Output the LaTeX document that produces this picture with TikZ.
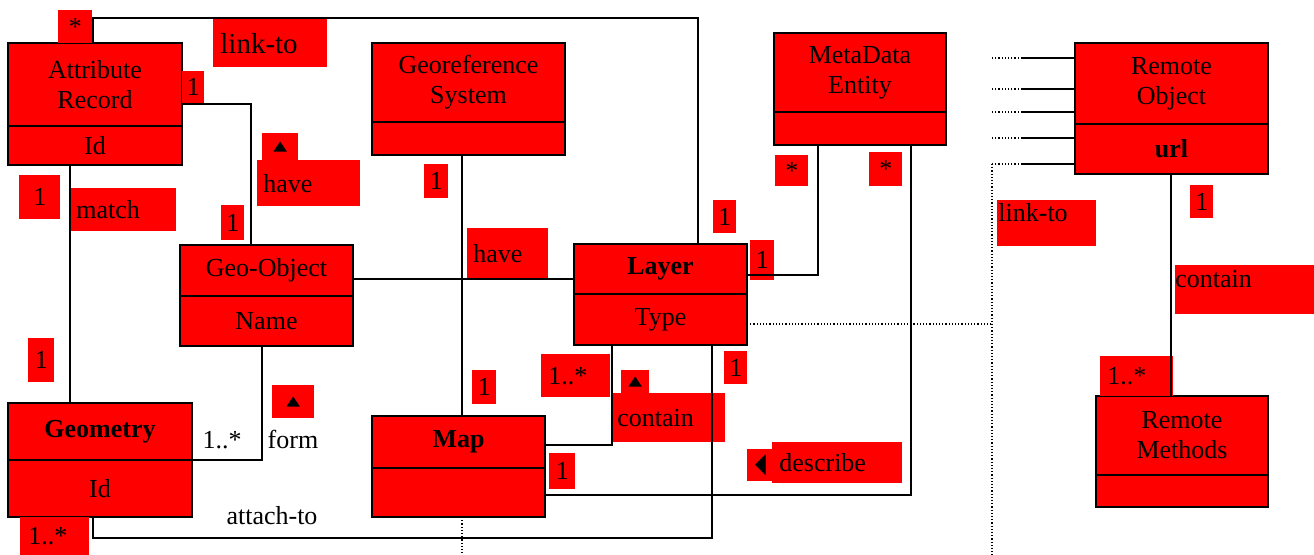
\documentclass[tikz,border=0pt]{standalone}
\usepackage{fontspec}
\usepackage{graphicx}
\setmainfont{Liberation Serif}
\newfontfamily\symfont{DejaVu Sans}
\usetikzlibrary{positioning}

\newcommand{\uptri}{{\symfont\fontsize{9}{9}\selectfont\scalebox{1}[0.75]{▲}}}
\newcommand{\lefttri}{{\symfont\fontsize{14}{14}\selectfont\scalebox{0.5}[1]{◀}}}

\begin{document}
\begin{tikzpicture}[x=0.5pt, y=-0.5pt,
	every node/.style={font=\fontsize{13}{15}\selectfont},
	cls/.style={draw=black, fill=red, line width=1pt, inner sep=0pt, outer sep=0pt, align=center, anchor=north west},
	part/.style={draw=black, fill=red, line width=1pt, inner sep=0pt, outer sep=0pt, align=center},
	tag/.style={fill=red, inner sep=0pt, anchor=north west},
	ltag/.style={fill=red, inner ysep=0pt, anchor=north west, align=left},
	conn/.style={line width=0.8pt},
	dots/.style={line width=0.6pt, dash pattern=on 0.6pt off 1pt}]
	\useasboundingbox (0,0) rectangle (1314,555);

	% classes
	\node[cls, minimum width=87pt, minimum height=41.5pt] (attr) at (8,43) {Attribute\\Record};
	\node[part, minimum width=87pt, minimum height=19.5pt, below=0pt of attr] (attrId) {Id};
	\node[cls, minimum width=96.5pt, minimum height=39.5pt] (georef) at (372,43) {Georeference\\System};
	\node[part, minimum width=96.5pt, minimum height=16.5pt, below=0pt of georef] (georefBot) {};
	\node[cls, minimum width=86pt, minimum height=39.5pt] (meta) at (774,33) {MetaData\\Entity};
	\node[part, minimum width=86pt, minimum height=16.5pt, below=0pt of meta] (metaBot) {};
	\node[cls, minimum width=96.5pt, minimum height=40.5pt] (remote) at (1075,43) {Remote\\Object};
	\node[part, minimum width=96.5pt, minimum height=25pt, below=0pt of remote] (remoteUrl) {\textbf{url}};
	\node[cls, minimum width=86.5pt, minimum height=25.5pt] (geoobj) at (180,245) {Geo-Object};
	\node[part, minimum width=86.5pt, minimum height=25pt, below=0pt of geoobj] (geoobjName) {Name};
	\node[cls, minimum width=86.5pt, minimum height=25pt] (layer) at (574,244) {\textbf{Layer}};
	\node[part, minimum width=86.5pt, minimum height=25.5pt, below=0pt of layer] (layerType) {Type};
	\node[cls, minimum width=92pt, minimum height=28.5pt] (geom) at (8,403) {\textbf{Geometry}};
	\node[part, minimum width=92pt, minimum height=28.5pt, below=0pt of geom] (geomId) {Id};
	\node[cls, minimum width=86.5pt, minimum height=26pt] (map) at (372,416) {\textbf{Map}};
	\node[part, minimum width=86.5pt, minimum height=24.5pt, below=0pt of map] (mapBot) {};
	\node[cls, minimum width=86pt, minimum height=39.5pt] (methods) at (1096,396) {Remote\\Methods};
	\node[part, minimum width=86pt, minimum height=16pt, below=0pt of methods] (methodsBot) {};

	% labels
	\node[tag, minimum width=17pt, minimum height=16.5pt] (star1) at (58,10) {*};
	\node[ltag, inner xsep=3.5pt, text width=50pt, minimum height=24pt, font=\fontsize{14.5}{16}\selectfont] (linkto1) at (213,19) {link-to};
	\node[tag, minimum width=11pt, minimum height=16pt] (one1) at (182,71) {1};
	\node[tag, minimum width=18pt, minimum height=13.5pt] (haveTri) at (262,133) {\uptri};
	\node[ltag, inner xsep=3pt, text width=45.5pt, minimum height=23pt] (have1) at (257,160) {have};
	\node[tag, minimum width=20.5pt, minimum height=22pt] (one2) at (19,175) {1};
	\node[ltag, inner xsep=2.5pt, text width=47.5pt, minimum height=21.5pt] (match) at (71,188) {match};
	\node[tag, minimum width=11.5pt, minimum height=17.5pt] (one3) at (221,205) {1};
	\node[tag, minimum width=12pt, minimum height=17pt] (one4) at (424,164) {1};
	\node[ltag, inner xsep=3pt, text width=34.5pt, minimum height=25pt] (have2) at (467,228) {have};
	\node[tag, minimum width=13pt, minimum height=22pt] (one5) at (28,338) {1};
	\node[tag, minimum width=21pt, minimum height=16.5pt] (formTri) at (272,385) {\uptri};
	\node (form) at (293,439) {form};
	\node (manyForm) at (222,440) {1..*};
	\node[tag, minimum width=12pt, minimum height=17pt] (one6) at (472,370) {1};
	\node[ltag, inner xsep=3.5pt, text width=27.5pt, minimum height=21.5pt] (many1) at (541,354) {1..*};
	\node[tag, minimum width=14pt, minimum height=11.5pt] (containTri) at (621,370) {\uptri};
	\node[ltag, inner xsep=2.5pt, text width=51.5pt, minimum height=24.5pt] (contain1) at (612,393) {contain};
	\node[tag, minimum width=13pt, minimum height=18pt] (one7) at (549,453) {1};
	\node[tag, minimum width=11.5pt, minimum height=16.5pt] (one8) at (713,200) {1};
	\node[tag, minimum width=12pt, minimum height=20pt] (one9) at (750,240) {1};
	\node[tag, minimum width=11.5pt, minimum height=16.5pt] (one10) at (724,351) {1};
	\node[tag, minimum width=16.5pt, minimum height=15.5pt] (star2) at (775,155) {*};
	\node[tag, minimum width=16.5pt, minimum height=17pt] (star3) at (869,152) {*};
	\node[tag, minimum width=13pt, minimum height=16pt] (describeTri) at (747,449) {\lefttri};
	\node[ltag, inner xsep=3.5pt, text width=58pt, minimum height=20.5pt] (describe) at (772,442) {describe};
	\node[ltag, inner xsep=0.5pt, text width=48.5pt, text height=10.5pt, text depth=12.5pt] (linkto2) at (997,200) {link-to};
	\node[tag, minimum width=11.5pt, minimum height=16.5pt] (one11) at (1190,185) {1};
	\node[ltag, inner xsep=0pt, text width=69.5pt, text height=11pt, text depth=13.5pt] (contain2) at (1175,265) {contain};
	\node[ltag, inner xsep=3.5pt, text width=29.5pt, minimum height=20pt] (many2) at (1100,356) {1..*};
	\node (attachto) at (272,516) {attach-to};
	\node[ltag, inner xsep=4pt, text width=26.5pt, minimum height=19pt] (many3) at (20,517) {1..*};

	% bends
	\coordinate (linkA) at (93,18);
	\coordinate (linkB) at (698,18);
	\coordinate (haveA) at (251,104);
	\coordinate (matchA) at (70,0);
	\coordinate (formA) at (262,0);
	\coordinate (attA) at (93,538);
	\coordinate (attB) at (712,538);
	\coordinate (goL) at (462,279);
	\coordinate (conA) at (612,445);
	\coordinate (mlA) at (818,275);
	\coordinate (desA) at (911,495);
	\coordinate (rmA) at (1171,0);
	\coordinate (dotA) at (992,324);
	\coordinate (dotB) at (992,164);
	\coordinate (dotEnd) at (992,555);
	\coordinate (mapEnd) at (462,555);

	% connectors
	\draw[conn] (attr.north -| linkA) -- (linkA) -- (linkB) -- (layer.north -| linkB);
	\draw[conn] (attr.east |- haveA) -- (haveA) -- (geoobj.north -| haveA);
	\draw[conn] (attrId.south -| matchA) -- (geom.north -| matchA);
	\draw[conn] (geom.south east) -| (geoobjName.south -| formA);
	\draw[conn] (geomId.south -| attA) -- (attA) -- (attB) -- (layerType.south -| attB);
	\draw[conn] (geoobj.east |- goL) -- (layer.west |- goL);
	\draw[conn] (georefBot.south -| goL) -- (map.north -| goL);
	\draw[dots] (mapBot.south -| goL) -- (mapEnd);
	\draw[conn] (layerType.south -| conA) -- (conA) -- (map.east |- conA);
	\draw[conn] (layer.east |- mlA) -- (mlA) -- (metaBot.south -| mlA);
	\draw[conn] (mapBot.east |- desA) -- (desA) -- (metaBot.south -| desA);
	\draw[conn] (remoteUrl.south -| rmA) -- (methods.north -| rmA);
	\draw[dots] (layerType.east |- dotA) -- (dotA);
	\draw[dots] (dotB) -- (dotEnd);
	\foreach \y [count=\i] in {58,89,112,138,164} {
		\coordinate (stub\i) at (1022,\y);
		\draw[conn] (stub\i) -- (remote.west |- stub\i);
		\draw[dots] (stub\i) -- ++(-30,0);
	}
\end{tikzpicture}
\end{document}
